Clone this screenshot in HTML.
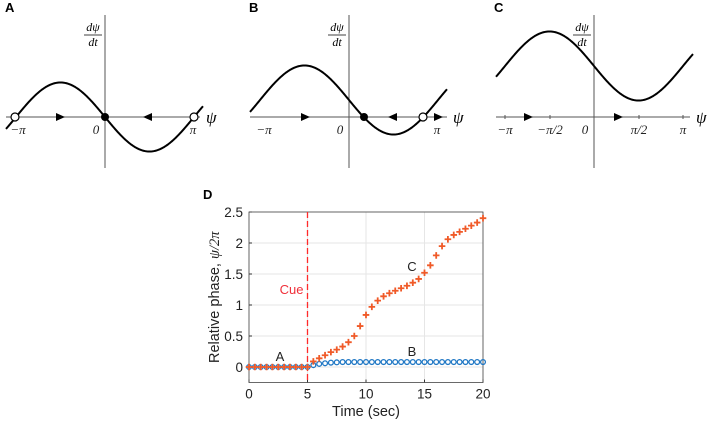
<!DOCTYPE html>
<html><head><meta charset="utf-8"><style>
body{margin:0;background:#fff;}
svg{display:block;font-family:"Liberation Sans",sans-serif;}
.m{font-family:"Liberation Serif",serif;font-style:italic;}
</style></head><body>
<svg id="fig" width="708" height="423" viewBox="0 0 708 423">
</svg>
<script>
// Panel D data
const times = [];
for (let i = 0; i <= 40; i++) times.push(i * 0.5);
const seriesC = [0,0,0,0,0,0,0,0,0,0,0,
  0.09,0.14,0.19,0.24,0.28,0.33,0.40,0.50,0.66,0.84,0.97,1.07,1.14,1.19,1.23,1.27,1.31,1.36,1.42,1.52,1.64,1.80,1.95,2.06,2.13,2.18,2.23,2.28,2.33,2.40];
const seriesB = [0,0,0,0,0,0,0,0,0,0,0,
  0.03,0.05,0.06,0.07,0.075,0.08,0.08,0.08,0.08,0.08,0.08,0.08,0.08,0.08,0.08,0.08,0.08,0.08,0.08,0.08,0.08,0.08,0.08,0.08,0.08,0.08,0.08,0.08,0.08,0.08];
const xTicks = [0,5,10,15,20];
const yTicks = [0,0.5,1,1.5,2,2.5];
const yTickLabels = ["0","0.5","1","1.5","2","2.5"];
const cueTime = 5;

const NS = "http://www.w3.org/2000/svg";
const svg = document.getElementById("fig");
function mk(tag, attrs, parent, text){
  const e = document.createElementNS(NS, tag);
  for (const k in attrs) e.setAttribute(k, attrs[k]);
  if (text !== undefined) e.textContent = text;
  (parent || svg).appendChild(e);
  return e;
}

function panel(id, ox, axL, axR, offset, arrows, stable, unstable, xlabels, curveL, curveR){
  const g = mk("g", {});
  
  
  const ay = 117, hw = 89, amp = 34.5;
  const t = mk("text", {x: ox - 100, y: 12, "font-size": 13, "font-weight": "bold"}, g, id.toUpperCase());
  
  
  const xa = mk("line", {x1: axL, y1: ay, x2: axR, y2: ay, stroke: "#555", "stroke-width": 1}, g);
  
  
  const ya = mk("line", {x1: ox, y1: 15, x2: ox, y2: 168, stroke: "#555", "stroke-width": 1}, g);
  
  
  const yl1 = mk("text", {x: ox - 12, y: 31, "font-size": 12, "text-anchor": "middle", class: "m"}, g, "dψ");
  
  
  mk("line", {x1: ox - 21, y1: 35, x2: ox - 3, y2: 35, stroke: "#000", "stroke-width": 0.7}, g);
  mk("text", {x: ox - 12, y: 46, "font-size": 12, "text-anchor": "middle", class: "m"}, g, "dt");
  const pl = mk("text", {x: axR + 6, y: ay + 6, "font-size": 17, class: "m"}, g, "ψ");
  
  
  let d = "";
  for (let x = curveL; x <= curveR; x += 1) {
    const psi = (x - ox) / hw * Math.PI;
    const y = ay - (-amp * Math.sin(psi) + offset);
    d += (x === curveL ? "M" : "L") + x + "," + y.toFixed(2);
  }
  const c = mk("path", {d: d, fill: "none", stroke: "#000", "stroke-width": 2}, g);
  
  
  arrows.forEach(a => {
    const s = a[1] > 0 ? 1 : -1;
    const p = mk("polygon", {points: `${a[0]+5*s},${ay} ${a[0]-4*s},${ay-4} ${a[0]-4*s},${ay+4}`, fill: "#000"}, g);
    
    
  });
  stable.forEach(x => {
    const p = mk("circle", {cx: x, cy: ay, r: 4, fill: "#000"}, g);
    
    
  });
  unstable.forEach(x => {
    const p = mk("circle", {cx: x, cy: ay, r: 4, fill: "#fff", stroke: "#000", "stroke-width": 1.2}, g);
    
    
  });
  xlabels.forEach(l => {
    if (l[2]) mk("line", {x1: l[0], y1: ay - 2, x2: l[0], y2: ay + 2, stroke: "#555"}, g);
    const tx = mk("text", {x: l[0], y: ay + 17, "font-size": 13, "text-anchor": "middle", fill: "#222", class: "m"}, g, l[1]);
    
    
  });
}
panel("a", 105, 6, 200, 0, [[60,1],[148,-1]], [105], [15,194],
  [[18,"−π"],[96,"0"],[193,"π"]], 6, 203);
panel("b", 349, 250, 447, 17, [[305,1],[393,-1],[438,1]], [364], [423],
  [[264,"−π"],[340,"0"],[437,"π"]], 250, 447);
panel("c", 594, 496, 690, 51, [[528,1],[618,1]], [], [],
  [[505,"−π",1],[550,"−π/2",1],[585,"0"],[639,"π/2",1],[683,"π",1]], 496, 693);

// Panel D
const X0 = 249, X1 = 483, Y0 = 367, YT = 212;
const xs = t => X0 + (t - 0) / 20 * (X1 - X0);
const ys = v => Y0 - v / 2.5 * (Y0 - YT);
const gd = mk("g", {});


const dl = mk("text", {x: 203, y: 199, "font-size": 13, "font-weight": "bold"}, gd, "D");


const YB = ys(-0.25);
xTicks.forEach(t => {
  const l = mk("line", {x1: xs(t), y1: YT, x2: xs(t), y2: YB, stroke: "#e6e6e6"}, gd);
  
  
  mk("line", {x1: xs(t), y1: YB, x2: xs(t), y2: YB - 3, stroke: "#333"}, gd);
  const tx = mk("text", {x: xs(t), y: YB + 16, "font-size": 13.5, "text-anchor": "middle", fill: "#222"}, gd, String(t));
  
  
});
yTicks.forEach((v, i) => {
  const l = mk("line", {x1: X0, y1: ys(v), x2: X1, y2: ys(v), stroke: "#e6e6e6"}, gd);
  
  
  mk("line", {x1: X0, y1: ys(v), x2: X0 + 3, y2: ys(v), stroke: "#333"}, gd);
  const tx = mk("text", {x: X0 - 6, y: ys(v) + 5, "font-size": 13.5, "text-anchor": "end", fill: "#222"}, gd, yTickLabels[i]);
  
  
});
const box = mk("rect", {x: X0, y: YT, width: X1 - X0, height: YB - YT, fill: "none", stroke: "#444", "stroke-width": 0.8}, gd);


const xt = mk("text", {x: (X0 + X1) / 2, y: 416, "font-size": 14.5, "text-anchor": "middle", fill: "#222"}, gd, "Time (sec)");


const yt = mk("text", {x: 0, y: 0, "font-size": 14.5, "text-anchor": "middle", fill: "#222", transform: `translate(219,${(YT+YB)/2}) rotate(-90)`}, gd);


yt.textContent = "Relative phase, ";
mk("tspan", {class: "m"}, yt, "ψ/2π");
const cue = mk("line", {x1: xs(cueTime), y1: YT, x2: xs(cueTime), y2: YB, stroke: "#ff2a2a", "stroke-width": 1.3, "stroke-dasharray": "6,3"}, gd);


const ct = mk("text", {x: xs(cueTime) - 4, y: 294, "font-size": 13, "text-anchor": "end", fill: "#f0303a"}, gd, "Cue");


times.forEach((t, i) => {
  const c = mk("circle", {cx: xs(t), cy: ys(seriesB[i]), r: 2.4, fill: "none", stroke: "#1f77c4", "stroke-width": 1.3}, gd);
  
  
});
times.forEach((t, i) => {
  const x = xs(t), y = ys(seriesC[i]);
  const p = mk("path", {d: `M${x-3.3},${y}H${x+3.3}M${x},${y-3.3}V${y+3.3}`, stroke: "#f05a28", "stroke-width": 1.8}, gd);
  
  
});
[["A", 280, 361], ["B", 412, 356], ["C", 412, 271]].forEach(l => {
  const tx = mk("text", {x: l[1], y: l[2], "font-size": 13, "text-anchor": "middle", fill: "#222"}, gd, l[0]);
  
  
});
</script>
</body></html>
